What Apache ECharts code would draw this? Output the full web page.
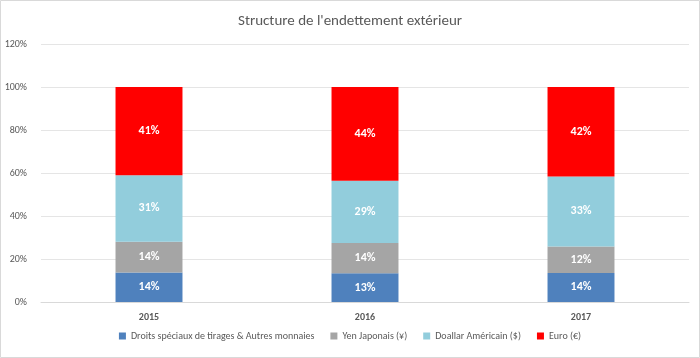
<!DOCTYPE html>
<html><head><meta charset="utf-8">
<script src="https://cdn.jsdelivr.net/npm/echarts@6/dist/echarts.min.js"></script>
<style>html,body{margin:0;padding:0;background:#fff}#c{width:700px;height:358px}</style>
</head><body><div id="c"></div>
<script>
const categories = ['2015', '2016', '2017'];
const seriesNames = ['Droits spéciaux de tirages & Autres monnaies', 'Yen Japonais (¥)', 'Doallar Américain ($)', 'Euro (€)'];
const droits = [13.7, 13.4, 13.5];
const yen = [14.3, 14.0, 12.3];
const dollar = [31.0, 29.0, 32.6];
const euro = [41.0, 43.6, 41.6];
const yTicks = [0, 20, 40, 60, 80, 100, 120];
const colors = ['#4F81BD', '#A5A5A5', '#92CDDC', '#FF0000'];
const font = 'Calibri, Carlito, "Open Sans", sans-serif';
const data = [droits, yen, dollar, euro];
const chart = echarts.init(document.getElementById('c'));
chart.setOption({
  animation: false,
  title: { text: "Structure de l'endettement extérieur", left: 'center', top: 9,
    textStyle: { fontFamily: font, fontSize: 15, fontWeight: 'normal', color: '#595959' } },
  graphic: [{ type: 'rect', shape: { x: 0.5, y: 0.5, width: 699, height: 357 },
    style: { fill: 'none', stroke: '#D9D9D9', lineWidth: 1 } }],
  legend: { bottom: 12, left: 'center', itemWidth: 7, itemHeight: 7, itemGap: 16,
    icon: 'rect', textStyle: { fontFamily: font, fontSize: 10, color: '#595959' } },
  grid: { left: 41, right: 11, top: 44, bottom: 56 },
  xAxis: { type: 'category', data: categories,
    axisLine: { lineStyle: { color: '#D9D9D9' } }, axisTick: { show: false },
    axisLabel: { fontFamily: font, fontSize: 10, fontWeight: 'bold', color: '#595959', margin: 10 } },
  yAxis: { type: 'value', min: 0, max: 120, interval: 20,
    axisLabel: { formatter: v => v + '%', fontFamily: font, fontSize: 10, color: '#595959', margin: 14 },
    splitLine: { lineStyle: { color: '#E5E5E5' } }, axisLine: { show: false }, axisTick: { show: false } },
  series: seriesNames.map((n, i) => ({
    name: n, type: 'bar', stack: 'a', barWidth: '31%', data: data[i],
    itemStyle: { color: colors[i] },
    label: { show: true, formatter: p => Math.round(p.value) + '%', color: '#fff',
      fontFamily: font, fontSize: 12, fontWeight: 'bold' }
  }))
});
</script></body></html>
